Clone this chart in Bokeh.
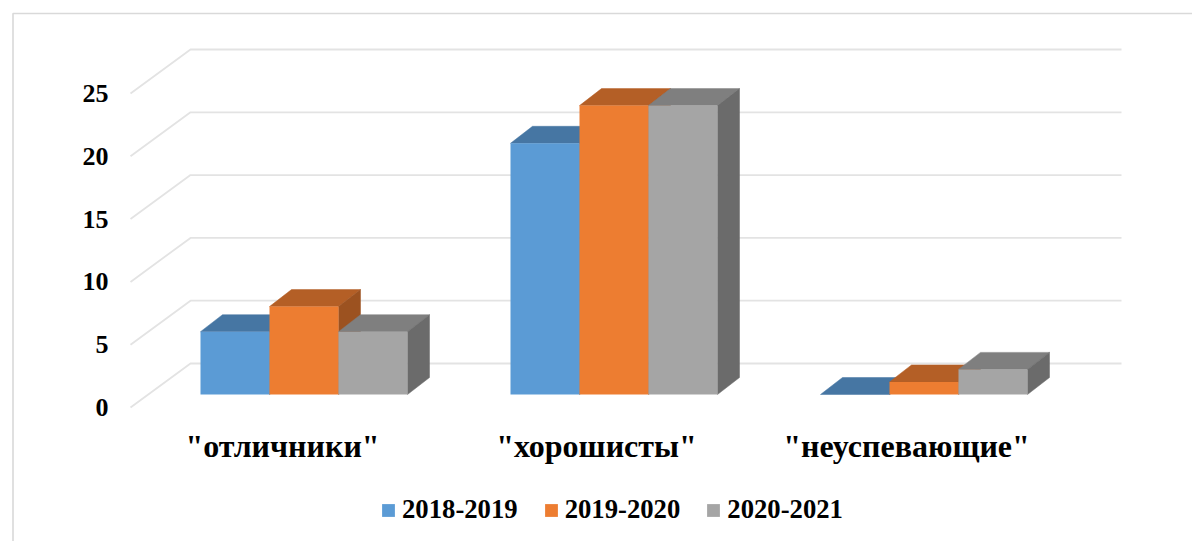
from bokeh.plotting import figure
from bokeh.models import Range1d, LinearAxis, FixedTicker, Legend, LegendItem
from bokeh.embed import file_html
from bokeh.resources import INLINE

categories = ['"отличники"', '"хорошисты"', '"неуспевающие"']
series_names = ["2018-2019", "2019-2020", "2020-2021"]
values_2018 = [5, 20, 0]
values_2019 = [7, 23, 1]
values_2020 = [5, 23, 2]
y_ticks = [0, 5, 10, 15, 20, 25]

front_colors = ["#5B9BD5", "#ED7D31", "#A5A5A5"]
top_colors = ["#4676A3", "#B45F26", "#7F7F7F"]
side_colors = ["#3F6B94", "#9C5220", "#6B6B6B"]

FONT = "Liberation Serif"
W, H = 1192, 541
PX_X, PX_Y = 310.0, 12.56          # pixels per category / per value unit
x_u = lambda page: 1 + (page - 596) / PX_X
y_u = lambda page: (407 - page) / PX_Y

p = figure(width=W, height=H, output_backend="svg", toolbar_location=None,
           x_range=Range1d(x_u(0), x_u(W)), y_range=Range1d(y_u(H), y_u(0)),
           min_border=0, min_border_left=0, min_border_right=0, min_border_top=0, min_border_bottom=0,
           x_axis_location=None, y_axis_location=None)
p.grid.visible = False
p.outline_line_color = None
p.background_fill_color = "white"
p.border_fill_color = "white"

# chart border (left and top only, as in the reference)
p.line([x_u(12.5), x_u(12.5), x_u(1192)], [y_u(541), y_u(13), y_u(13)],
       line_color="#D9D9D9", line_width=1.6)

# wall grid + floor/wall diagonals
wall_x0, wall_back_x0, wall_x1 = x_u(130), x_u(190), x_u(1121)
wall_dy = 44 / PX_Y
for t in y_ticks:
    p.line([wall_x0, wall_back_x0, wall_x1], [t, t + wall_dy, t + wall_dy],
           line_color="#E3E3E3", line_width=1.8)

# bars
bar_w = 69 / PX_X
group_left = x_u(200)              # left edge of first bar in first group
dx, dy = 22 / PX_X, 17 / PX_Y
base = 13 / PX_Y
all_series = [values_2018, values_2019, values_2020]
legend_items = []
for s, (name, vals) in enumerate(zip(series_names, all_series)):
    lefts = [group_left + i + s * bar_w for i in range(len(categories))]
    rights = [l + bar_w for l in lefts]
    tops = [v + base for v in vals]
    bottoms = [base] * len(vals)
    # top faces
    p.patches([[l, r, r + dx, l + dx] for l, r in zip(lefts, rights)],
              [[t, t, t + dy, t + dy] for t in tops],
              fill_color=top_colors[s], line_color=top_colors[s], line_width=0.5)
    # side faces
    p.patches([[r, r + dx, r + dx, r] for r in rights],
              [[base, base + dy, t + dy, t] for t in tops],
              fill_color=side_colors[s], line_color=side_colors[s], line_width=0.5)
    # front faces
    fr = p.quad(left=lefts, right=rights, top=tops, bottom=bottoms,
                fill_color=front_colors[s], line_color=None)
    legend_items.append(LegendItem(label=name, renderers=[fr]))

# axes placed inside the frame
yaxis = LinearAxis(fixed_location=x_u(130), ticker=FixedTicker(ticks=y_ticks))
yaxis.axis_line_color = None
yaxis.major_tick_line_color = None
yaxis.minor_tick_line_color = None
yaxis.major_label_standoff = 16
yaxis.major_label_text_font = FONT
yaxis.major_label_text_font_style = "bold"
yaxis.major_label_text_font_size = "26px"
yaxis.major_label_text_color = "black"
p.add_layout(yaxis, "left")

cat_pos = [x_u(282), x_u(596), x_u(906)]
xaxis = LinearAxis(fixed_location=y_u(419), ticker=FixedTicker(ticks=cat_pos),
                   major_label_overrides={c: n for c, n in zip(cat_pos, categories)})
xaxis.axis_line_color = None
xaxis.major_tick_line_color = None
xaxis.minor_tick_line_color = None
xaxis.major_label_standoff = 2
xaxis.major_label_text_font = FONT
xaxis.major_label_text_font_style = "bold"
xaxis.major_label_text_font_size = "32px"
xaxis.major_label_text_color = "black"
p.add_layout(xaxis, "below")

legend = Legend(items=legend_items, orientation="horizontal", location=(380, 16),
                glyph_width=16, glyph_height=16, label_standoff=6, spacing=25,
                padding=0, margin=0, border_line_color=None, background_fill_alpha=0,
                label_text_font=FONT, label_text_font_style="bold",
                label_text_font_size="26.7px", label_text_color="black")
p.add_layout(legend, "center")

open("out.html", "w").write(file_html(p, INLINE))
